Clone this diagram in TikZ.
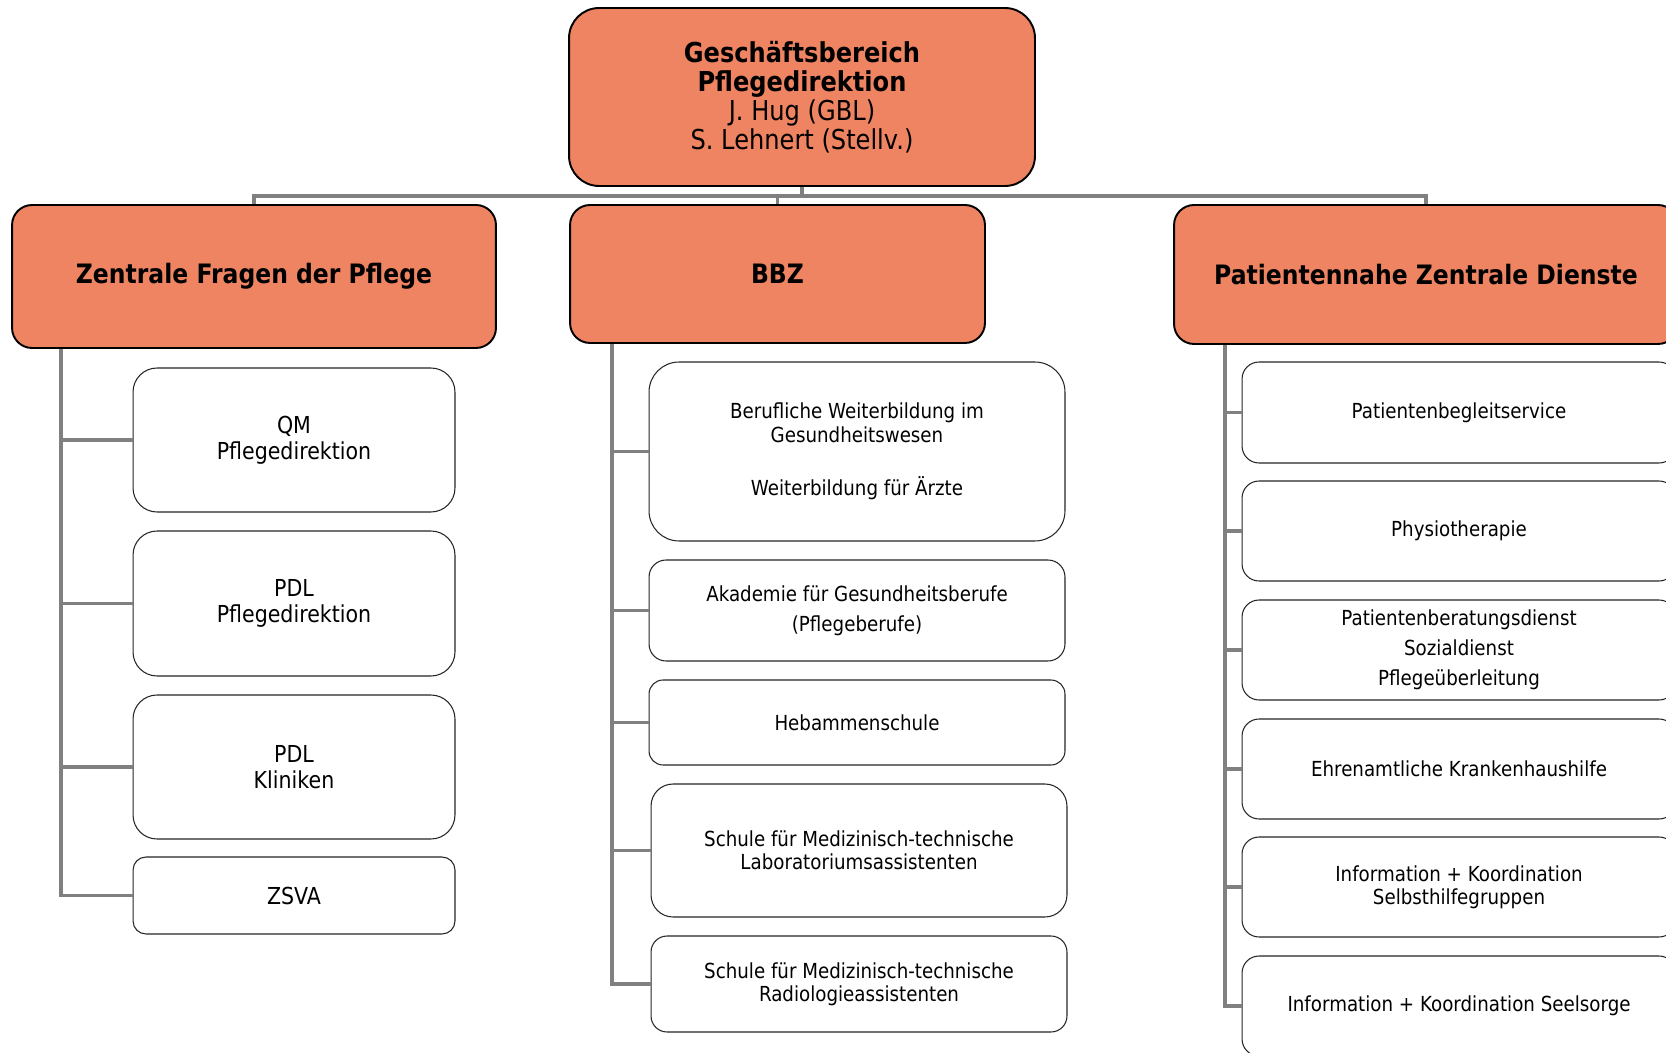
\documentclass[tikz,border=0pt]{standalone}
\usepackage{fontspec}
\setmainfont{DejaVu Sans}[FakeStretch=0.88]
\usepackage{xcolor}
\definecolor{lachs}{HTML}{EE8462}
\definecolor{linie}{HTML}{808080}

\begin{document}
\begin{tikzpicture}[x=0.02cm, y=-0.02cm,
        lvl/.style = {draw, line width=1.1pt, fill=lachs, rounded corners=0.4cm, inner sep=0, font=\bfseries\fontsize{15.2}{17}\selectfont},
        sub/.style = {draw=black!85, line width=0.6pt, fill=white, rounded corners=#1, inner sep=0, align=center, font=\fontsize{11.8}{13.3}\selectfont},
        sub/.default = 0.34cm,
        lsub/.style = {sub=#1, minimum width=6.44cm, font=\fontsize{13.3}{15}\selectfont},
        msub/.style = {sub=#1, minimum width=8.32cm},
        rsub/.style = {sub, minimum width=8.68cm, minimum height=2cm},
        conn/.style = {draw=linie, line width=1.9pt}]
        \useasboundingbox (0,0) rectangle (1666,1053);
        \fill[white] (0,0) rectangle (1666,1053);
        \clip (0,0) rectangle (1666,1053);

        % Kopf
        \node[lvl, font=\fontsize{15.6}{16.5}\selectfont, align=center, rounded corners=0.6cm, minimum width=9.32cm, minimum height=3.56cm] (gb) at (802,97) {\textbf{Geschäftsbereich}\\\textbf{Pflegedirektion}\\J. Hug (GBL)\\S. Lehnert (Stellv.)};

        % Bereiche
        \node[lvl, minimum width=9.68cm, minimum height=2.86cm] (zfp) at (254,276.5) {Zentrale Fragen der Pflege};
        \node[lvl, minimum width=8.3cm, minimum height=2.76cm] (bbz) at (777.5,274) {BBZ};
        \node[lvl, minimum width=10.08cm, minimum height=2.78cm] (pzd) at (1426,274.5) {Patientennahe Zentrale Dienste};

        \coordinate (bus) at (0,196);
        \coordinate (lz) at (61,0);
        \coordinate (lb) at (612,0);
        \coordinate (lp) at (1225,0);

        % Zentrale Fragen der Pflege
        \node[lsub=0.48cm, minimum height=2.88cm] (qm) at (294,440) {QM\\Pflegedirektion};
        \node[lsub=0.48cm, minimum height=2.9cm] (pdla) at (294,603.5) {PDL\\Pflegedirektion};
        \node[lsub=0.48cm, minimum height=2.88cm] (pdlb) at (294,767) {PDL\\Kliniken};
        \node[lsub=0.26cm, minimum height=1.54cm] (zsva) at (294,895.5) {ZSVA};

        % BBZ
        \node[msub=0.6cm, minimum height=3.58cm] (bwg) at (857,451.5) {Berufliche Weiterbildung im\\Gesundheitswesen\\[17pt]Weiterbildung für Ärzte};
        \node[msub, minimum height=2.02cm, font=\fontsize{11.8}{17}\selectfont] (akad) at (857,610.5) {Akademie für Gesundheitsberufe\\(Pflegeberufe)};
        \node[msub=0.28cm, minimum height=1.7cm] (heb) at (857,722.5) {Hebammenschule};
        \node[msub=0.44cm, minimum height=2.66cm] (mtla) at (859,850.5) {Schule für Medizinisch-technische\\Laboratoriumsassistenten};
        \node[msub=0.32cm, minimum height=1.92cm] (mtra) at (859,984) {Schule für Medizinisch-technische\\Radiologieassistenten};

        % Patientennahe Zentrale Dienste
        \node[rsub, minimum height=2.02cm] (pbs) at (1459,412.5) {Patientenbegleitservice};
        \node[rsub] (phys) at (1459,531) {Physiotherapie};
        \node[rsub, font=\fontsize{11.8}{17}\selectfont] (pbd) at (1459,650) {Patientenberatungsdienst\\Sozialdienst\\Pflegeüberleitung};
        \node[rsub] (ehr) at (1459,769) {Ehrenamtliche Krankenhaushilfe};
        \node[rsub] (shg) at (1459,887) {Information + Koordination\\Selbsthilfegruppen};
        \node[rsub] (sls) at (1459,1006) {Information + Koordination Seelsorge};

        % Linien
        \draw[conn] (gb.south) -- (gb.south |- bus);
        \draw[conn] (zfp.north) -- (zfp.north |- bus) -- (pzd.north |- bus) -- (pzd.north);
        \draw[conn] (bbz.north) -- (bbz.north |- bus);

        \foreach \n in {qm,pdla,pdlb,zsva}
            \draw[conn] (zfp.south -| lz) |- (\n.west);
        \foreach \n in {bwg,akad,heb,mtla,mtra}
            \draw[conn] (bbz.south -| lb) |- (\n.west);
        \foreach \n in {pbs,phys,pbd,ehr,shg,sls}
            \draw[conn] (pzd.south -| lp) |- (\n.west);

    \end{tikzpicture}
\end{document}
